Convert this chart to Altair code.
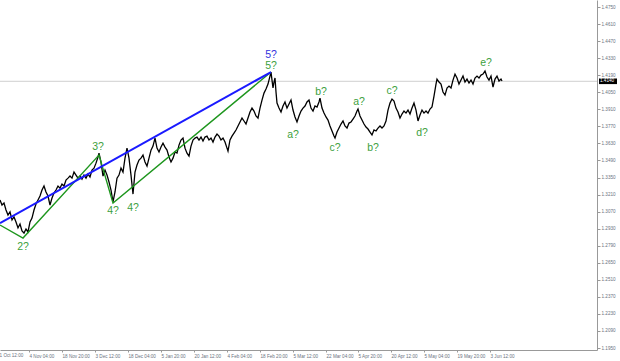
import altair as alt
import pandas as pd

# ---- price series (bar index, close) ----
bar = [0, 2, 4, 6, 8, 10, 12, 14, 16, 18, 20, 22, 24, 26, 28, 30, 32, 34, 36, 38,
       40, 42, 44, 46, 48, 50, 52, 54, 56, 58, 60, 62, 64, 66, 68, 70, 72, 74, 76, 78,
       80, 82, 84, 86, 88, 90, 92, 94, 96, 98, 99, 101, 103, 105, 107, 109, 111, 113, 115, 117,
       119, 121, 123, 125, 127, 129, 131, 133, 135, 137, 139, 141, 143, 145, 147, 149, 151, 153, 155, 157,
       159, 161, 163, 165, 167, 169, 171, 173, 175, 177, 179, 181, 183, 185, 187, 189, 191, 193, 195, 197,
       199, 201, 203, 205, 207, 209, 211, 213, 215, 217, 219, 221, 223, 225, 227, 228, 230, 232, 234, 236,
       238, 240, 242, 244, 246, 248, 250, 252, 254, 256, 258, 260, 262, 264, 266, 268, 270, 271, 272, 273,
       274, 275, 276, 277, 279, 281, 283, 285, 287, 289, 291, 293, 295, 297, 299, 301, 303, 305, 307, 309,
       311, 313, 315, 317, 319, 320, 322, 324, 326, 328, 330, 332, 334, 335, 337, 339, 341, 343, 345, 347,
       349, 351, 353, 355, 357, 358, 360, 362, 364, 366, 368, 370, 372, 374, 376, 378, 380, 382, 384, 386,
       388, 390, 392, 394, 396, 398, 400, 402, 404, 406, 408, 410, 412, 414, 416, 418, 420, 422, 424, 426,
       428, 430, 432, 434, 436, 437, 439, 441, 443, 445, 447, 449, 451, 453, 455, 457, 459, 461, 463, 465,
       467, 469, 471, 473, 475, 477, 479, 481, 483, 485, 487, 489, 491, 493, 495, 497, 499, 501, 502]
close = [1.3165, 1.3124, 1.3140, 1.3083, 1.3042, 1.3067, 1.3001, 1.3026, 1.2985, 1.2936,
         1.2968, 1.2911, 1.2894, 1.2927, 1.2903, 1.2985, 1.3017, 1.3083, 1.3132, 1.3165,
         1.3198, 1.3247, 1.3280, 1.3231, 1.3198, 1.3124, 1.3181, 1.3222, 1.3247, 1.3280,
         1.3263, 1.3296, 1.3280, 1.3329, 1.3345, 1.3362, 1.3345, 1.3395, 1.3370, 1.3345,
         1.3362, 1.3337, 1.3370, 1.3345, 1.3378, 1.3354, 1.3411, 1.3427, 1.3468, 1.3518,
         1.3550, 1.3477, 1.3362, 1.3411, 1.3370, 1.3313, 1.3247, 1.3149, 1.3231, 1.3345,
         1.3370, 1.3427, 1.3395, 1.3509, 1.3591, 1.3509, 1.3370, 1.3214, 1.3395, 1.3452,
         1.3493, 1.3509, 1.3534, 1.3477, 1.3444, 1.3509, 1.3575, 1.3608, 1.3674, 1.3591,
         1.3559, 1.3600, 1.3632, 1.3600, 1.3575, 1.3518, 1.3477, 1.3509, 1.3559, 1.3550,
         1.3616, 1.3658, 1.3674, 1.3591, 1.3550, 1.3526, 1.3608, 1.3658, 1.3674, 1.3682,
         1.3658, 1.3682, 1.3649, 1.3682, 1.3690, 1.3658, 1.3674, 1.3641, 1.3682, 1.3707,
         1.3690, 1.3658, 1.3674, 1.3641, 1.3591, 1.3567, 1.3658, 1.3690, 1.3715, 1.3740,
         1.3773, 1.3806, 1.3838, 1.3814, 1.3789, 1.3838, 1.3888, 1.3920, 1.3896, 1.3855,
         1.3838, 1.3920, 1.3986, 1.4043, 1.4076, 1.4117, 1.4183, 1.4216, 1.4150, 1.4085,
         1.4134, 1.4167, 1.4052, 1.3961, 1.3920, 1.3888, 1.3937, 1.3970, 1.3920, 1.3953,
         1.3986, 1.3904, 1.3847, 1.3806, 1.3855, 1.3896, 1.3920, 1.3937, 1.3970, 1.3986,
         1.3920, 1.3896, 1.3937, 1.3929, 1.3970, 1.4002, 1.3920, 1.3879, 1.3847, 1.3822,
         1.3773, 1.3732, 1.3690, 1.3674, 1.3723, 1.3756, 1.3789, 1.3814, 1.3773, 1.3756,
         1.3797, 1.3806, 1.3830, 1.3855, 1.3896, 1.3912, 1.3855, 1.3822, 1.3789, 1.3764,
         1.3748, 1.3723, 1.3699, 1.3740, 1.3732, 1.3756, 1.3773, 1.3756, 1.3773, 1.3814,
         1.3904, 1.3961, 1.3994, 1.3978, 1.3920, 1.3888, 1.3838, 1.3871, 1.3896, 1.3879,
         1.3904, 1.3871, 1.3920, 1.3961, 1.3904, 1.3814, 1.3863, 1.3904, 1.3879, 1.3896,
         1.3879, 1.3912, 1.3929, 1.4019, 1.4117, 1.4158, 1.4134, 1.4117, 1.4052, 1.4027,
         1.4085, 1.4101, 1.4085, 1.4150, 1.4199, 1.4167, 1.4117, 1.4150, 1.4183, 1.4134,
         1.4158, 1.4126, 1.4150, 1.4117, 1.4167, 1.4183, 1.4167, 1.4191, 1.4199, 1.4224,
         1.4175, 1.4150, 1.4183, 1.4093, 1.4158, 1.4183, 1.4142, 1.4158, 1.4142]

# ---- wave lines ----
green_bar = [0, 23, 99, 113, 271]
green_price = [1.2960, 1.2853, 1.3534, 1.3140, 1.4216]
blue_bar = [0, 271]
blue_price = [1.2976, 1.4216]

# ---- wave labels ----
label_text = ["2?", "3?", "4?", "4?", "5?", "a?", "b?", "c?", "a?", "b?", "c?", "d?", "e?"]
label_bar = [23, 98, 113, 133, 271, 293, 321, 335, 359, 373, 392, 422, 486]
label_price = [1.2780, 1.3600, 1.3075, 1.3099, 1.4265, 1.3699, 1.4052, 1.3591,
               1.3970, 1.3591, 1.4060, 1.3715, 1.4290]
blue_label_text = ["5?"]
blue_label_bar = [271]
blue_label_price = [1.4355]

# ---- axes ----
y_ticks = [1.1950, 1.2090, 1.2230, 1.2370, 1.2510, 1.2650, 1.2790, 1.2930, 1.3070,
           1.3210, 1.3350, 1.3490, 1.3630, 1.3770, 1.3910, 1.4050, 1.4190, 1.4330,
           1.4470, 1.4610, 1.4750]
x_tick_pos = [29, 62, 95, 128, 161, 194, 227, 260, 293, 326, 358, 391, 424, 457, 490]
x_tick_labels = ["4 Nov 04:00", "18 Nov 20:00", "3 Dec 12:00", "18 Dec 04:00",
                 "5 Jan 20:00", "20 Jan 12:00", "4 Feb 04:00", "18 Feb 20:00",
                 "5 Mar 12:00", "22 Mar 04:00", "5 Apr 20:00", "20 Apr 12:00",
                 "5 May 04:00", "19 May 20:00", "3 Jun 12:00"]
first_label_pos = [-4]
first_label = ["21 Oct 12:00"]
current_price = 1.4140

W, H = 597, 350
FONT = "Liberation Sans"
AX = "#6a7280"

xscale = alt.Scale(domain=[0, W], nice=False, zero=False)
yscale = alt.Scale(domain=[1.19336, 1.48075], nice=False, zero=False)

label_expr = ""
for p, t in zip(x_tick_pos, x_tick_labels):
    label_expr += f"datum.value == {p} ? '{t}' : "
label_expr += "''"

xaxis = alt.Axis(values=x_tick_pos, labelExpr=label_expr, title=None, grid=False,
                 labelAlign="left", labelPadding=1, labelFontSize=4.6, labelFont=FONT,
                 labelColor=AX, tickSize=2, tickColor="#999999", domainColor="#999999",
                 labelFlush=False, labelOverlap=False, labelBaseline="top", tickCount=60)
yaxis = alt.Axis(values=y_ticks, format=".4f", orient="right", title=None, grid=False,
                 labelPadding=1, labelFontSize=4.6, labelFont=FONT, labelColor=AX,
                 tickSize=3, tickColor="#999999", domainColor="#999999",
                 labelFlush=False, labelOverlap=False, tickCount=60)

df = pd.DataFrame({"bar": bar, "close": close})
gdf = pd.DataFrame({"bar": green_bar, "price": green_price})
bdf = pd.DataFrame({"bar": blue_bar, "price": blue_price})
ldf = pd.DataFrame({"bar": label_bar, "price": label_price, "t": label_text})
bldf = pd.DataFrame({"bar": blue_label_bar, "price": blue_label_price, "t": blue_label_text})
cdf = pd.DataFrame({"price": [current_price], "lo": [current_price - 0.0023],
                    "hi": [current_price + 0.0023],
                    "t": [f"{current_price:.4f}"]})
fdf = pd.DataFrame({"bar": first_label_pos, "t": first_label})

cur_line = alt.Chart(cdf).mark_rule(color="#cfcfcf", strokeWidth=1).encode(
    y=alt.Y("price:Q", scale=yscale, axis=yaxis),
    x=alt.value(0), x2=alt.value(W))

price_line = alt.Chart(df).mark_line(color="black", strokeWidth=1.3).encode(
    x=alt.X("bar:Q", scale=xscale, axis=xaxis),
    y=alt.Y("close:Q", scale=yscale, axis=yaxis))

green_line = alt.Chart(gdf).mark_line(color="#1e961e", strokeWidth=1.4).encode(
    x=alt.X("bar:Q", scale=xscale), y=alt.Y("price:Q", scale=yscale))
blue_line = alt.Chart(bdf).mark_line(color="#1a1aff", strokeWidth=2).encode(
    x=alt.X("bar:Q", scale=xscale), y=alt.Y("price:Q", scale=yscale))

labels = alt.Chart(ldf).mark_text(color="#3c9f3c", fontSize=10.5, font=FONT).encode(
    x=alt.X("bar:Q", scale=xscale), y=alt.Y("price:Q", scale=yscale), text="t:N")
blue_labels = alt.Chart(bldf).mark_text(color="#3333dd", fontSize=10.5, font=FONT).encode(
    x=alt.X("bar:Q", scale=xscale), y=alt.Y("price:Q", scale=yscale), text="t:N")

box = alt.Chart(cdf).mark_rect(color="black").encode(
    y=alt.Y("lo:Q", scale=yscale), y2="hi:Q",
    x=alt.value(W + 2), x2=alt.value(W + 20))
box_text = alt.Chart(cdf).mark_text(color="white", fontSize=4.6, font=FONT,
                                    align="left").encode(
    y=alt.Y("price:Q", scale=yscale), x=alt.value(W + 3), text="t:N")

first = alt.Chart(fdf).mark_text(color=AX, fontSize=4.6, font=FONT, align="left",
                                 baseline="top", dx=1).encode(
    x=alt.X("bar:Q", scale=xscale), y=alt.value(H + 3), text="t:N")

chart = alt.layer(cur_line, price_line, green_line, blue_line, labels, blue_labels,
                  box, box_text, first).properties(
    width=W, height=H,
    autosize=alt.AutoSizeParams(type="none"),
    padding={"left": 0, "top": 0, "right": 620 - W, "bottom": 361 - H},
    background="white",
).configure_view(stroke=None)

chart.save("out.html", embed_options={"renderer": "svg", "actions": False})
